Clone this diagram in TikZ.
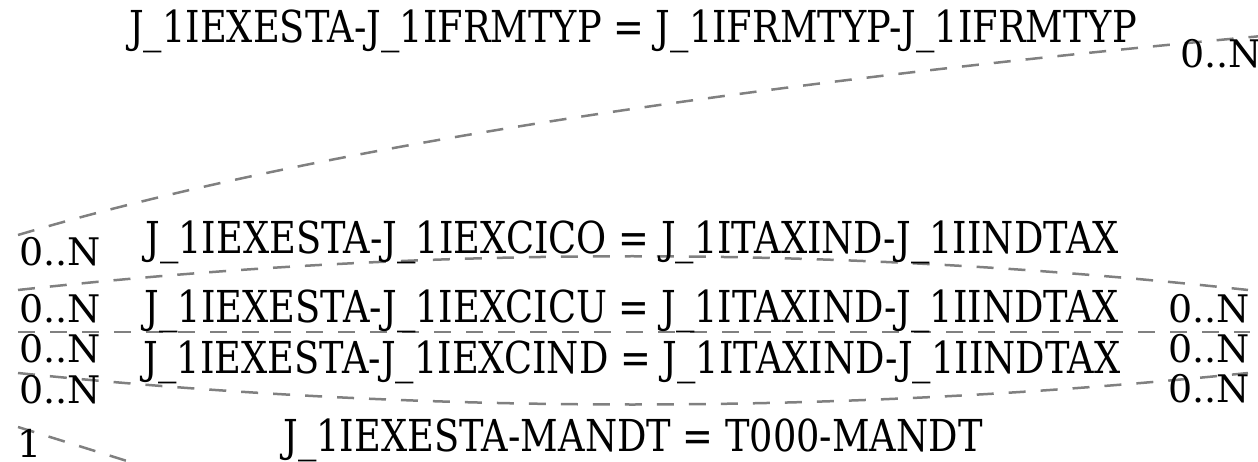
\documentclass[tikz,border=0pt]{standalone}
\usepackage{fontspec}
\setmainfont{DejaVu Serif}
\newfontfamily\joinfont[FakeStretch=0.835]{DejaVu Serif}
\usetikzlibrary{positioning}

\begin{document}
\begin{tikzpicture}[x=1pt,y=-1pt,
    rel/.style={draw=gray,line width=2.5pt,dash pattern=on 17pt off 15pt},
    lbl/.style={anchor=base,inner sep=0pt,font=\joinfont\fontsize{44}{52}\selectfont},
    card/.style={anchor=base,inner sep=0pt,font=\fontsize{38}{46}\selectfont}]
   \useasboundingbox (0,0) rectangle (1258,462);
   \clip (0,0) rectangle (1258,462);
%% relation end points
   \coordinate (fa) at (18,235);   \coordinate (ta) at (1262,36);
   \coordinate (fb) at (18,290);   \coordinate (tb) at (1248,290);
   \coordinate (fc) at (18,332);   \coordinate (tc) at (1250,332);
   \coordinate (fd) at (18,373);   \coordinate (td) at (1248,373);
   \coordinate (fe) at (18,427);   \coordinate (te) at (220,490);
%% relations
   \draw [rel] (fa) .. controls (293,153) and (706,87) .. (ta);
   \draw [rel] (fb) .. controls (427,245) and (837,245) .. (tb);
   \draw [rel] (fc) -- (tc);
   \draw [rel] (fd) .. controls (427,415) and (837,415) .. (td);
   \draw [rel] (fe) -- (te);
%% join conditions
   \node [lbl] (frm) at (633,43)  {J\_1IEXESTA-J\_1IFRMTYP = J\_1IFRMTYP-J\_1IFRMTYP};
   \node [lbl] (cico) at (632,254) {J\_1IEXESTA-J\_1IEXCICO = J\_1ITAXIND-J\_1IINDTAX};
   \node [lbl] (cicu) at (632,323) {J\_1IEXESTA-J\_1IEXCICU = J\_1ITAXIND-J\_1IINDTAX};
   \node [lbl] (cind) at (632,373) {J\_1IEXESTA-J\_1IEXCIND = J\_1ITAXIND-J\_1IINDTAX};
   \node [lbl] (mnd) at (633,451) {J\_1IEXESTA-MANDT = T000-MANDT};
%% cardinalities
   \node [card] (la) at (60,266)  {0..N};
   \node [card] (lb) at (60,322)  {0..N};
   \node [card] (lc) at (60,362)  {0..N};
   \node [card] (ld) at (60,403)  {0..N};
   \node [card] (le) at (30,457)  {1};
   \node [card] (ra) at (1221,68) {0..N};
   \node [card] (rb) at (1209,322) {0..N};
   \node [card] (rc) at (1209,362) {0..N};
   \node [card] (rd) at (1209,402) {0..N};
\end{tikzpicture}
\end{document}
